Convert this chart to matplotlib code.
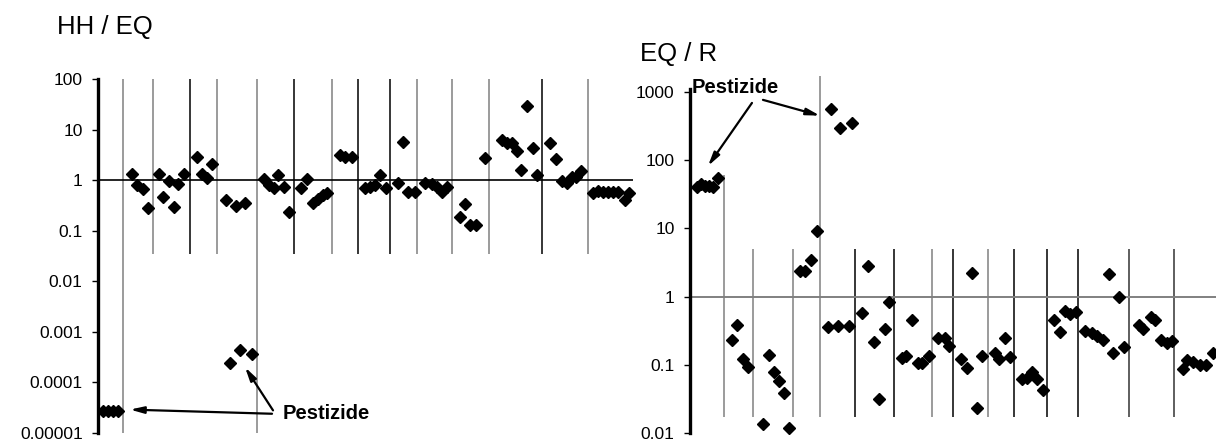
import numpy as np
import matplotlib
matplotlib.use("Agg")
import matplotlib.pyplot as plt

plt.rcParams["font.family"] = ["Liberation Sans", "DejaVu Sans"]

# HH / EQ  (sample position, ratio)
hh_x = [34, 39, 45, 50, 61, 65, 71, 76, 80, 86, 99, 104, 109, 114, 128, 138, 147,
        166, 171, 176, 180, 186, 191, 203, 209, 215, 220, 225, 229, 242, 247, 254,
        267, 272, 277, 282, 288, 300, 305, 310, 317, 327, 334, 339, 344, 349,
        362, 367, 372, 378, 387, 404, 409, 414, 419, 423, 429, 435, 439,
        452, 458, 464, 469, 474, 478, 483, 495, 500, 505, 510, 515, 520, 527, 531]
hh_y = [1.31, 0.8, 0.66, 0.28, 1.3, 0.46, 0.95, 0.3, 0.83, 1.3, 2.9, 1.3, 1.1, 2.1, 0.4, 0.31, 0.35,
        1.05, 0.8, 0.7, 1.25, 0.72, 0.23, 0.7, 1.05, 0.35, 0.42, 0.5, 0.55, 3.1, 2.9, 2.9,
        0.7, 0.73, 0.8, 1.25, 0.7, 0.87, 5.6, 0.58, 0.58, 0.87, 0.83, 0.73, 0.58, 0.73,
        0.19, 0.33, 0.13, 0.13, 2.7, 6.2, 5.4, 5.4, 3.8, 1.58, 29, 4.3, 1.25,
        5.4, 2.6, 0.95, 0.87, 1.15, 1.15, 1.5, 0.55, 0.62, 0.58, 0.58, 0.58, 0.58, 0.4, 0.55]
hh_pest_x = [5, 10, 15, 20, 132, 142, 154]
hh_pest_y = [2.7e-5, 2.7e-5, 2.7e-5, 2.7e-5, 2.4e-4, 4.3e-4, 3.6e-4]
hh_groups = [25, 55, 92, 119, 159, 196, 234, 260, 292, 319, 354, 391, 444, 490]
hh_groups_full = [25, 159]
hh_group_col = ["gray", "gray", "black", "gray", "gray", "black", "gray", "black",
                "black", "gray", "gray", "gray", "black", "gray"]
hh_ticks = [1e-5, 1e-4, 1e-3, 1e-2, 0.1, 1, 10, 100]
hh_labels = ["0.00001", "0.0001", "0.001", "0.01", "0.1", "1", "10", "100"]

# EQ / R
eq_x = [42, 47, 53, 58, 73, 79, 84, 89, 94, 99, 110, 115, 121, 127,
        138, 148, 159, 172, 178, 184, 189, 195, 199, 212, 216, 222, 228, 232, 239,
        248, 255, 259, 271, 277, 282, 287, 292, 305, 309, 315, 320, 332, 337, 342,
        347, 353, 364, 370, 375, 380, 386, 395, 402, 407, 413, 419, 423, 429, 434,
        449, 453, 461, 465, 471, 477, 482, 493, 497, 503, 510, 516, 523]
eq_y = [0.23, 0.38, 0.12, 0.094, 0.0135, 0.14, 0.079, 0.057, 0.038, 0.012, 2.38, 2.4, 3.4, 9.0,
        0.355, 0.37, 0.37, 0.57, 2.8, 0.215, 0.031, 0.33, 0.82, 0.126, 0.135, 0.46, 0.107, 0.107, 0.135,
        0.246, 0.246, 0.19, 0.122, 0.09, 2.2, 0.023, 0.135, 0.15, 0.122, 0.246, 0.13, 0.061, 0.063, 0.079,
        0.061, 0.043, 0.45, 0.30, 0.61, 0.55, 0.59, 0.31, 0.29, 0.26, 0.23, 2.15, 0.15, 0.97, 0.18,
        0.38, 0.34, 0.5, 0.46, 0.23, 0.21, 0.22, 0.088, 0.118, 0.11, 0.1, 0.1, 0.15]
eq_pest_x = [7, 11, 15, 19, 23, 28, 141, 150, 162]
eq_pest_y = [40, 44, 42, 42, 40, 55, 570, 300, 355]
eq_groups = [34, 63, 103, 130, 165, 204, 242, 263, 298, 324, 357, 388, 439, 484]
eq_groups_top = [60, 5, 5, 1700, 5, 5, 5, 5, 5, 5, 5, 5, 5, 5]
eq_group_col = ["gray", "gray", "gray", "gray", "black", "black", "gray", "black",
                "gray", "black", "black", "black", "#333333", "#333333"]
eq_ticks = [0.01, 0.1, 1, 10, 100, 1000]
eq_labels = ["0.01", "0.1", "1", "10", "100", "1000"]

fig = plt.figure(figsize=(12.16, 4.42), dpi=100)
ax1 = fig.add_axes([0.0806, 0.0204, 0.44, 0.801])
ax2 = fig.add_axes([0.5674, 0.0204, 0.4326, 0.778])

for ax in (ax1, ax2):
    ax.set_yscale("log")
    for s in ("top", "right", "bottom"):
        ax.spines[s].set_visible(False)
    ax.spines["left"].set_linewidth(2.4)
    ax.set_xticks([])
    ax.tick_params(axis="y", which="both", length=4, width=1, pad=7, labelsize=12.5)
    ax.set_facecolor("none")

mk = dict(marker="D", ls="none", color="black", ms=6.2, clip_on=False)

# left panel
ax1.set_xlim(0, 535)
ax1.set_ylim(1e-5, 100)
for gx, c in zip(hh_groups, hh_group_col):
    low = 1e-5 if gx in hh_groups_full else 0.034
    ax1.vlines(gx, low, 100, colors=c, lw=1.1)
ax1.axhline(1, color="black", lw=1.2)
ax1.plot(hh_x, hh_y, **mk)
ax1.plot(hh_pest_x, hh_pest_y, **mk)
ax1.set_yticks(hh_ticks)
ax1.set_yticklabels(hh_labels)
ax1.minorticks_off()
ax1.text(185, 2.4e-5, "Pestizide", fontsize=14.5, fontweight="bold", ha="left", va="center")
arr = dict(arrowstyle="-|>,head_length=0.8,head_width=0.2", color="black", lw=1.6,
           shrinkA=0, shrinkB=0)
ax1.annotate("", xy=(32, 2.9e-5), xytext=(174, 2.4e-5), arrowprops=arr)
ax1.annotate("", xy=(147, 2.0e-4), xytext=(175, 2.8e-5), arrowprops=arr)

# right panel
ax2.set_xlim(0, 526)
ax2.set_ylim(0.01, 1100)
for gx, top, c in zip(eq_groups, eq_groups_top, eq_group_col):
    ax2.vlines(gx, 0.017, top, colors=c, lw=1.1, clip_on=False)
ax2.axhline(1, color="gray", lw=1.4)
ax2.plot(eq_x, eq_y, **mk)
ax2.plot(eq_pest_x, eq_pest_y, **mk)
ax2.set_yticks(eq_ticks)
ax2.set_yticklabels(eq_labels)
ax2.minorticks_off()
ax2.text(2, 1180, "Pestizide", fontsize=14.5, fontweight="bold", ha="left", va="center")
ax2.annotate("", xy=(18, 82), xytext=(62, 690), arrowprops=arr)
ax2.annotate("", xy=(130, 449), xytext=(73, 765), arrowprops=arr)

fig.text(0.0469, 0.923, "HH / EQ", fontsize=18.5, va="baseline", ha="left")
fig.text(0.526, 0.862, "EQ / R", fontsize=18.5, va="baseline", ha="left")

fig.savefig("out.png", dpi=100)
